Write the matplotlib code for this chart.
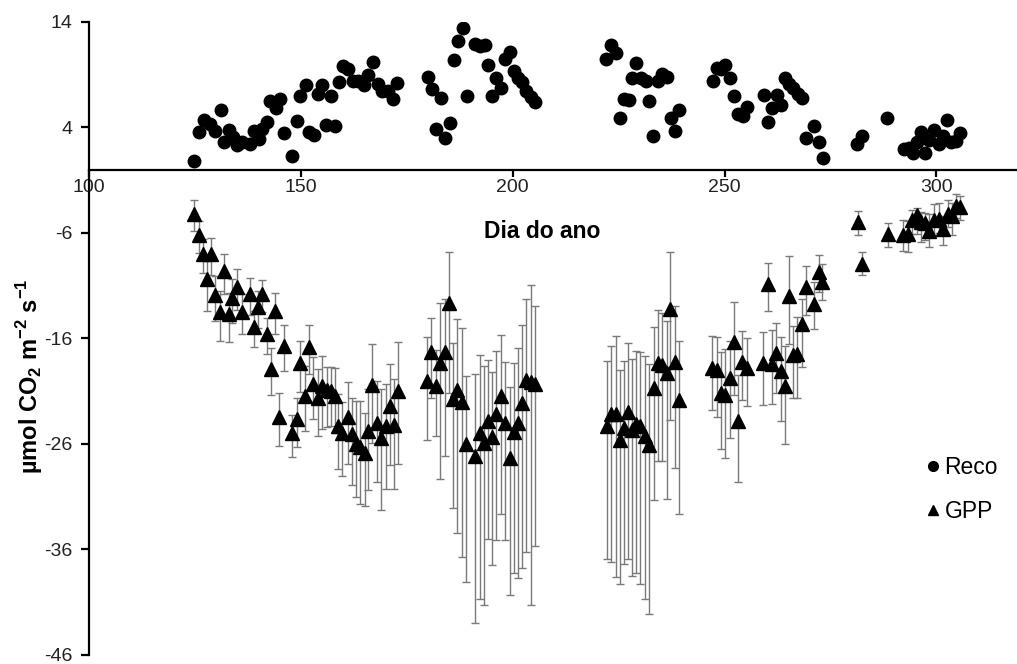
import matplotlib
matplotlib.use("Agg")
import matplotlib.pyplot as plt
from matplotlib.lines import Line2D

plt.rcParams['font.family'] = ['Liberation Sans', 'DejaVu Sans']
plt.rcParams['mathtext.fontset'] = 'custom'
plt.rcParams['mathtext.rm'] = 'Liberation Sans'
plt.rcParams['mathtext.bf'] = 'Liberation Sans:bold'
plt.rcParams['axes.unicode_minus'] = False

# Reco (respiração do ecossistema)
reco_day = [124.8, 125.9, 127.1, 128.5, 129.7, 131.1, 131.8, 133.0, 134.0, 135.0,
            136.2, 138.0, 138.9, 140.1, 140.9, 142.0, 142.8, 144.1, 145.0, 146.0,
            148.0, 149.0, 149.9, 151.1, 152.0, 153.1, 154.1, 155.1, 155.9, 157.2,
            158.0, 159.0, 160.0, 161.2, 162.2, 163.5, 164.9, 165.9, 167.1, 168.1,
            169.2, 170.6, 171.8, 172.6,
            180.0, 181.0, 182.0, 183.0, 184.1, 185.1, 186.1, 187.0, 188.3, 189.2,
            191.0, 192.2, 193.4, 194.2, 195.2, 196.1, 197.3, 198.1, 199.3, 200.2,
            201.3, 202.3, 203.2, 204.2, 205.2,
            222.1, 223.3, 224.3, 225.2, 226.3, 227.4, 228.1, 229.2, 230.3, 231.5,
            232.1, 233.1, 234.3, 235.3, 236.4, 237.3, 238.2, 239.2,
            247.2, 248.2, 249.2, 250.2, 251.3, 252.2, 253.1, 254.3, 255.3, 259.3,
            260.2, 261.2, 262.3, 263.3, 264.2, 265.1, 266.1, 267.3, 268.3, 269.3,
            271.2, 272.2, 273.3,
            281.3, 282.4, 288.4, 292.3, 293.5, 294.4, 295.4, 296.4, 297.4, 298.3,
            299.4, 300.5, 301.5, 302.5, 303.5, 304.5, 305.6]
reco_val = [0.8, 3.6, 4.7, 4.3, 3.7, 5.7, 2.6, 3.8, 3.1, 2.3,
            2.6, 2.4, 3.7, 2.9, 3.9, 4.5, 6.5, 5.8, 6.7, 3.5,
            1.3, 4.6, 7.0, 8.0, 3.6, 3.3, 7.2, 8.0, 4.2, 7.0,
            4.1, 8.3, 9.8, 9.5, 8.4, 8.4, 8.0, 9.0, 10.2, 8.1,
            7.5, 7.5, 6.7, 8.2,
            8.8, 7.6, 3.9, 6.8, 3.0, 4.4, 10.4, 12.2, 13.4, 7.0,
            11.9, 11.7, 11.8, 9.9, 7.0, 8.7, 7.7, 10.5, 11.2, 9.4,
            8.7, 8.3, 7.5, 6.9, 6.4,
            10.5, 11.8, 11.1, 4.9, 6.7, 6.6, 8.7, 10.1, 8.7, 8.4,
            6.5, 3.2, 8.4, 9.1, 8.8, 4.9, 3.7, 5.7,
            8.4, 9.6, 9.5, 9.9, 8.7, 7.0, 5.3, 5.1, 5.9, 7.1,
            4.5, 5.8, 7.1, 6.1, 8.7, 8.1, 7.7, 7.2, 6.8, 3.0,
            4.1, 2.6, 1.1,
            2.4, 3.2, 4.9, 2.0, 2.1, 1.6, 2.6, 3.6, 1.6, 2.8,
            3.8, 2.4, 3.2, 4.7, 2.6, 2.7, 3.5]

# GPP com barras de erro (acima / abaixo)
gpp_day = [124.8, 125.9, 126.9, 127.9, 128.9, 129.8, 130.9, 131.8, 133.0, 133.8,
           134.9, 136.0, 137.9, 138.9, 139.9, 140.9, 142.1, 143.0, 144.0, 144.9,
           146.0, 147.9, 149.0, 149.9, 150.9, 151.9, 152.9, 154.1, 155.0, 156.1,
           157.0, 158.0, 158.8, 159.8, 161.1, 162.1, 163.1, 164.0, 165.2, 165.9,
           166.9, 168.0, 169.0, 170.0, 171.0, 172.0, 173.0,
           179.7, 180.8, 181.8, 182.9, 183.9, 184.9, 185.9, 186.9, 188.0, 189.0,
           191.2, 192.2, 193.2, 194.2, 195.2, 196.1, 197.2, 198.1, 199.3, 200.2,
           201.3, 202.2, 203.2, 204.2, 205.2,
           222.2, 223.3, 224.3, 225.2, 226.2, 227.2, 228.2, 229.2, 230.1, 231.2,
           232.2, 233.3, 234.3, 235.3, 236.3, 237.2, 238.2, 239.2,
           247.1, 248.2, 249.2, 250.2, 251.2, 252.2, 253.1, 254.2, 255.3, 259.1,
           260.2, 261.2, 262.2, 263.2, 264.3, 265.1, 266.1, 267.1, 268.2, 269.3,
           271.2, 272.2, 273.1,
           281.4, 282.4, 288.5, 292.0, 293.3, 294.3, 295.4, 296.4, 297.4, 298.3,
           299.5, 300.5, 301.6, 302.6, 303.6, 304.6, 305.6]
gpp_val = [-4.2, -6.2, -8.0, -10.4, -8.0, -11.9, -13.5, -9.6, -13.7, -12.2,
           -11.1, -13.5, -11.8, -14.9, -13.0, -11.8, -15.6, -18.9, -13.4, -23.4,
           -16.7, -25.0, -23.6, -18.3, -21.5, -16.8, -20.3, -21.6, -20.5, -20.9,
           -21.0, -21.5, -24.3, -25.0, -23.4, -25.1, -26.0, -26.3, -26.9, -24.8,
           -20.4, -24.0, -25.4, -24.3, -22.4, -24.2, -21.0,
           -20.0, -17.3, -20.5, -18.3, -17.3, -12.6, -21.7, -20.9, -22.0, -26.0,
           -27.1, -25.0, -25.9, -23.8, -25.3, -23.2, -21.5, -24.0, -27.3, -24.9,
           -24.0, -22.1, -19.9, -20.1, -20.3,
           -24.3, -23.2, -23.2, -25.6, -24.5, -23.0, -24.7, -24.1, -24.3, -25.2,
           -26.1, -20.7, -18.3, -18.5, -19.3, -13.2, -18.2, -21.8,
           -18.8, -19.0, -21.2, -21.4, -19.7, -16.3, -23.8, -18.2, -18.8, -18.3,
           -10.8, -18.4, -17.4, -19.1, -20.5, -12.0, -17.6, -17.5, -14.6, -11.1,
           -12.7, -9.7, -10.6,
           -5.0, -8.9, -6.1, -6.2, -6.1, -4.8, -4.3, -5.0, -5.1, -5.8,
           -4.8, -4.7, -5.6, -4.2, -4.4, -3.4, -3.5]
gpp_err_up = [1.3, 1.3, 1.4, 2.2, 1.5, 1.8, 2.0, 1.6, 2.0, 1.8,
              1.7, 1.7, 1.5, 1.5, 1.5, 1.3, 1.5, 2.0, 1.7, 2.2,
              2.0, 1.7, 2.0, 2.1, 2.9, 2.1, 2.5, 2.7, 2.8, 2.2,
              2.3, 2.7, 3.0, 3.0, 3.3, 3.5, 4.1, 4.4, 3.8, 4.0,
              3.9, 4.0, 4.6, 4.0, 4.0, 4.4, 4.7,
              4.1, 3.2, 3.4, 5.7, 5.0, 4.8, 5.3, 6.7, 7.0, 6.4,
              7.7, 7.4, 7.3, 5.8, 6.1, 6.0, 5.8, 5.8, 6.7, 6.6,
              7.1, 7.4, 7.6, 9.2, 7.4,
              6.2, 6.5, 7.4, 6.6, 6.4, 6.6, 6.8, 6.9, 7.0, 7.5,
              7.7, 5.8, 5.0, 4.9, 5.0, 5.4, 5.3, 5.6,
              3.0, 3.1, 3.9, 4.4, 3.5, 3.8, 4.3, 2.9, 2.8, 2.9,
              2.0, 3.2, 2.9, 3.2, 3.8, 3.8, 2.8, 3.5, 2.3, 2.0,
              2.1, 1.6, 1.7,
              1.1, 1.1, 1.0, 1.4, 1.2, 1.0, 0.7, 1.0, 1.0, 1.6,
              1.5, 1.5, 1.2, 1.3, 1.2, 1.1, 1.0]
gpp_err_down = [1.6, 1.7, 1.8, 3.0, 2.0, 2.4, 2.7, 2.2, 2.6, 2.3,
                2.2, 2.1, 2.0, 1.9, 2.0, 1.7, 1.9, 2.5, 2.2, 2.8,
                2.4, 2.2, 2.7, 2.8, 3.3, 2.6, 3.3, 3.6, 4.1, 3.5,
                3.3, 3.5, 4.1, 4.0, 4.5, 4.8, 5.0, 5.4, 5.0, 5.6,
                5.5, 5.6, 6.9, 6.0, 5.6, 6.1, 6.9,
                5.6, 4.3, 4.7, 11.0, 9.8, 8.6, 10.4, 13.5, 14.7, 13.1,
                15.9, 15.7, 15.4, 11.2, 12.2, 11.9, 11.1, 11.1, 13.0, 13.3,
                14.7, 15.7, 16.3, 21.2, 15.4,
                12.6, 14.0, 15.4, 13.7, 12.9, 13.9, 13.8, 14.1, 15.0, 15.5,
                16.0, 10.6, 9.3, 9.1, 11.9, 10.5, 10.1, 10.8,
                4.0, 4.4, 5.3, 5.9, 5.7, 5.1, 5.8, 3.6, 3.6, 4.0,
                2.6, 3.8, 3.8, 4.7, 5.5, 4.5, 4.0, 4.1, 4.1, 2.7,
                2.4, 1.9, 1.8,
                1.2, 1.1, 1.2, 1.5, 1.7, 1.3, 1.8, 1.9, 1.6, 1.5,
                1.4, 1.3, 1.5, 1.2, 1.8, 1.2, 1.3]

x_ticks = [100, 150, 200, 250, 300]
y_ticks = [14, 4, -6, -16, -26, -36, -46]

fig = plt.figure(figsize=(10.17, 6.64), dpi=100)
ax = fig.add_axes([0.0875, 0.0136, 0.9125, 0.9533])

ax.errorbar(gpp_day, gpp_val, yerr=[gpp_err_down, gpp_err_up], fmt='none',
            ecolor='#7a7a7a', elinewidth=1, capsize=3, capthick=1, zorder=2)
ax.plot(gpp_day, gpp_val, '^', color='black', markersize=9.5, zorder=3)
ax.plot(reco_day, reco_val, 'o', color='black', markersize=9, zorder=3)

ax.set_xlim(100, 319)
ax.set_ylim(-46, 14)
ax.set_xticks(x_ticks)
ax.set_yticks(y_ticks)
ax.spines['top'].set_visible(False)
ax.spines['right'].set_visible(False)
ax.spines['bottom'].set_position(('data', 0))
ax.spines['bottom'].set_linewidth(1.6)
ax.spines['left'].set_linewidth(1.6)
ax.tick_params(axis='x', direction='out', length=5, width=1.6, labelsize=14, pad=2,
               labelcolor='#222222')
ax.tick_params(axis='y', direction='out', length=6, width=1.6, labelsize=14, pad=6,
               labelcolor='#222222')

ax.set_xlabel('Dia do ano', fontsize=16.5, fontweight='bold')
ax.xaxis.set_label_coords(0.488, 0.687)
ax.set_ylabel(r'µmol CO$_\mathbf{2}$ m$^\mathbf{-2}$ s$^\mathbf{-1}$', fontsize=17, fontweight='bold')
ax.yaxis.set_label_coords(-0.047, 0.44)

handles = [Line2D([], [], marker='o', color='black', linestyle='none', markersize=7),
           Line2D([], [], marker='^', color='black', linestyle='none', markersize=7)]
ax.legend(handles, ['Reco', 'GPP'], loc='upper left', bbox_to_anchor=(0.88, 0.347),
          frameon=False, fontsize=16.5, handlelength=0.6, handletextpad=0.2,
          labelspacing=0.9)

fig.savefig('out.png', dpi=100)
